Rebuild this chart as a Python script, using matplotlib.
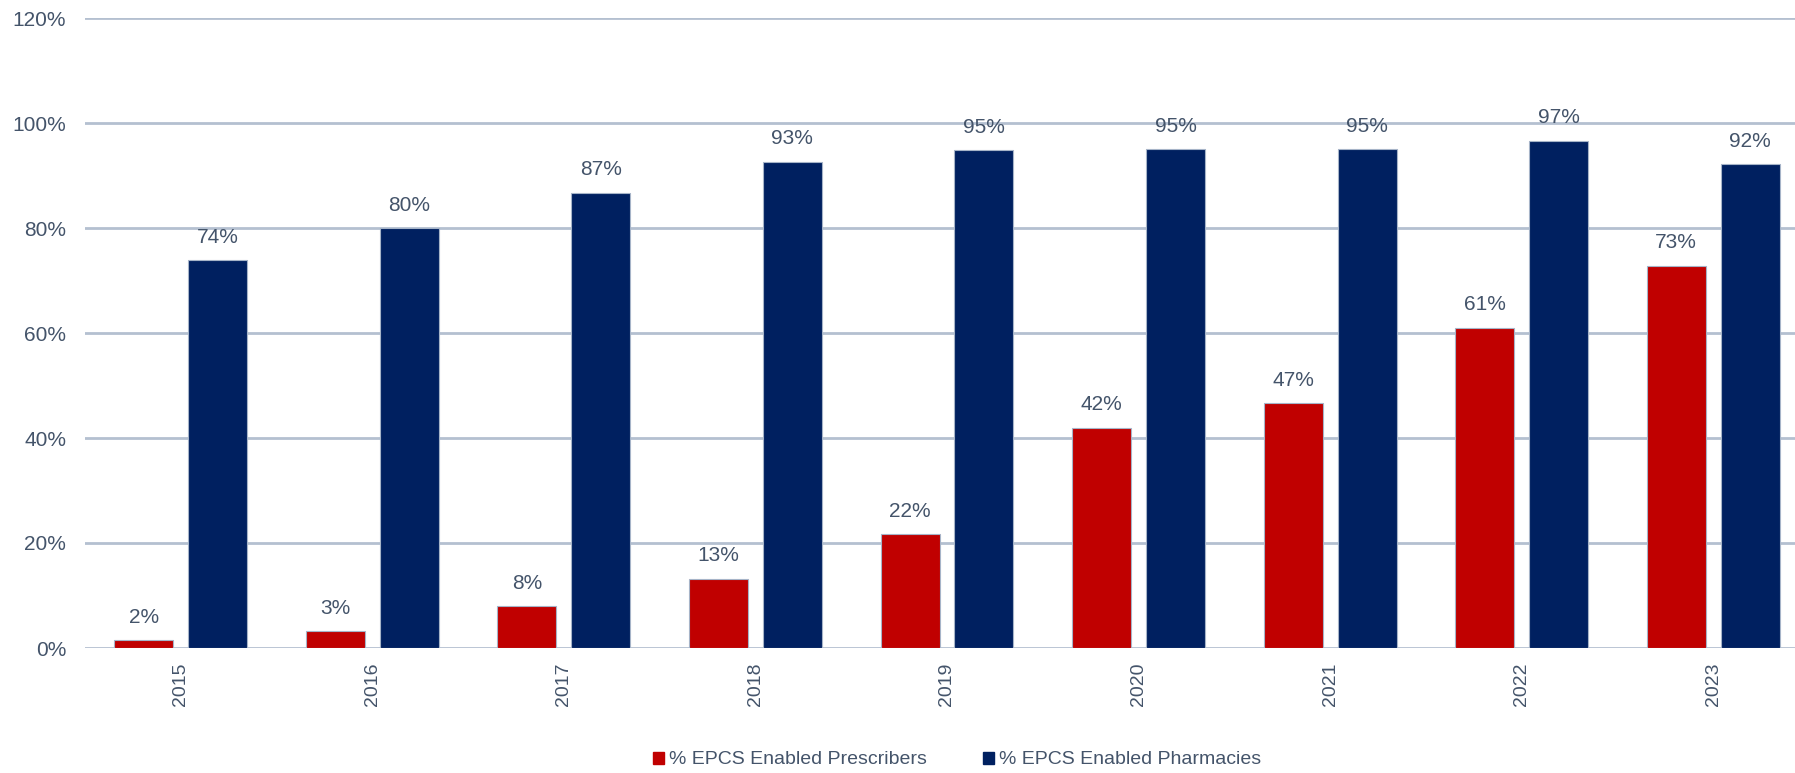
import matplotlib
matplotlib.use("Agg")
import matplotlib.pyplot as plt
import numpy as np
from matplotlib.patches import Patch

years = ["2015", "2016", "2017", "2018", "2019", "2020", "2021", "2022", "2023"]
prescribers = [1.5, 3.2, 8.0, 13.2, 21.7, 42.0, 46.6, 61.0, 72.8]
pharmacies = [73.9, 80.0, 86.7, 92.6, 94.8, 95.0, 95.0, 96.6, 92.1]
series_names = ["% EPCS Enabled Prescribers", "% EPCS Enabled Pharmacies"]
yticks = [0, 20, 40, 60, 80, 100, 120]

RED = "#C00000"
NAVY = "#002060"
TXT = "#44546A"
GRID = "#B4C0D0"
EDGE = "#A6B4C8"

plt.rcParams['font.family'] = ['Liberation Sans', 'DejaVu Sans']

W, H = 1795, 773
fig = plt.figure(figsize=(W / 100, H / 100), dpi=100)
left_px, right_px, top_px, bot_px = 85, 1809, 18, 648
ax = fig.add_axes([left_px / W, (H - bot_px) / H, (right_px - left_px) / W, (bot_px - top_px) / H])

x = np.arange(len(years))
bw = 0.308
off = 0.193
b1 = ax.bar(x - off, prescribers, bw, color=RED, edgecolor=EDGE, linewidth=0.8, zorder=3)
b2 = ax.bar(x + off, pharmacies, bw, color=NAVY, edgecolor=EDGE, linewidth=0.8, zorder=3)

for bars, vals in ((b1, prescribers), (b2, pharmacies)):
    for rect, v in zip(bars, vals):
        ax.annotate(f"{v:.0f}%", (rect.get_x() + rect.get_width() / 2, v),
                    xytext=(0, 16.5), textcoords="offset points",
                    ha="center", va="center", fontsize=15, color=TXT, zorder=4)

ax.set_xlim(-0.5, len(years) - 0.5)
ax.set_ylim(0, 120)
ax.set_yticks(yticks)
ax.set_yticklabels([f"{t}%" for t in yticks])
ax.set_xticks(x)
ax.set_xticklabels(years, rotation=90)
ax.tick_params(axis="both", length=0, colors=TXT)
ax.tick_params(axis="y", pad=13.5, labelsize=15)
ax.tick_params(axis="x", pad=10.5, labelsize=14)
for lbl in ax.get_xticklabels():
    lbl.set_color(TXT)
for s in ax.spines.values():
    s.set_visible(False)
ax.grid(axis="y", color=GRID, linewidth=2.0, zorder=0)
ax.set_axisbelow(True)

handles = [Patch(facecolor=RED, edgecolor=RED), Patch(facecolor=NAVY, edgecolor=NAVY)]
fig.legend(handles, series_names, loc="center", bbox_to_anchor=(957 / W, 13 / H),
           ncol=2, frameon=False, handlelength=0.58, handleheight=0.58,
           handletextpad=0.25, columnspacing=2.9, labelcolor=TXT,
           prop={'family': ['Liberation Sans', 'DejaVu Sans'], 'size': 14})

fig.savefig("out.png", dpi=100)
